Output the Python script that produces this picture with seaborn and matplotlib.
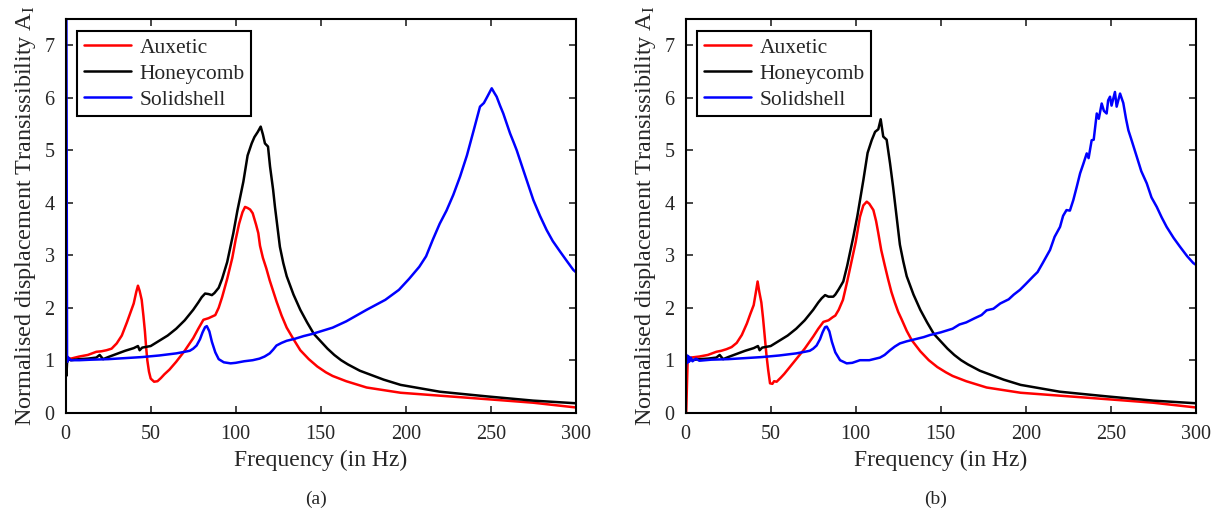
import matplotlib
matplotlib.use("Agg")
import matplotlib.pyplot as plt
import seaborn as sns
import pandas as pd

# ---------------- data ----------------
# Panel (a)
a_aux_f = [0, 0.3, 0.6, 1, 3, 8, 13, 18, 21, 24, 27, 30, 33, 36, 38, 40, 41.5, 42.5, 43.5, 44.7,
           45.7, 46.6, 47.3, 48, 49, 50, 52, 54, 56, 58, 61, 65, 70, 75, 78, 81, 84, 86, 88, 90,
           92, 95, 98, 100, 102, 104, 105.5, 107, 108.5, 110, 112, 113.3, 114.3, 116, 118, 120,
           122, 124, 127, 130, 134, 138, 143, 148, 153, 157, 165, 177, 197, 226, 255, 275, 300]
a_aux_v = [1.0, 2.1, 1.1, 1.05, 1.03, 1.07, 1.1, 1.16, 1.17, 1.19, 1.22, 1.32, 1.47, 1.72, 1.9, 2.08,
           2.3, 2.42, 2.32, 2.15, 1.85, 1.55, 1.25, 1.0, 0.78, 0.65, 0.59, 0.6, 0.66, 0.73, 0.82,
           0.97, 1.18, 1.42, 1.6, 1.77, 1.8, 1.83, 1.86, 2.0, 2.2, 2.55, 2.95, 3.3, 3.6, 3.82,
           3.92, 3.9, 3.87, 3.8, 3.58, 3.42, 3.18, 2.95, 2.75, 2.52, 2.32, 2.12, 1.85, 1.62, 1.4,
           1.19, 1.02, 0.88, 0.77, 0.7, 0.6, 0.48, 0.38, 0.31, 0.24, 0.19, 0.1]

a_hon_f = [0, 0.4, 0.8, 1.5, 3, 8, 13, 18, 20, 22, 25, 30, 35, 40, 42.5, 43.5, 45, 50, 55, 60, 65,
           70, 75, 78, 80, 82, 84, 86, 87.5, 90, 92, 95, 98.6, 101, 104.5, 107, 109.4, 111, 113,
           114.7, 116, 117.2, 119, 120.2, 122, 123.1, 126, 128, 130, 134, 138, 142, 146, 150, 154,
           158, 162, 166, 173, 187, 197, 220, 248, 275, 300]
a_hon_v = [1.0, 0.7, 0.95, 1.02, 1.0, 1.02, 1.03, 1.05, 1.1, 1.02, 1.06, 1.12, 1.18, 1.23, 1.27,
           1.19, 1.24, 1.27, 1.37, 1.47, 1.6, 1.76, 1.96, 2.1, 2.2, 2.27, 2.26, 2.24, 2.28, 2.38,
           2.55, 2.87, 3.42, 3.85, 4.4, 4.9, 5.13, 5.25, 5.35, 5.45, 5.3, 5.13, 5.07, 4.69, 4.25,
           3.92, 3.16, 2.85, 2.6, 2.25, 1.96, 1.72, 1.5, 1.36, 1.22, 1.1, 1.0, 0.92, 0.8, 0.63,
           0.53, 0.4, 0.31, 0.23, 0.18]

a_sol_f = [0, 0.4, 0.8, 1, 1.5, 3, 8, 15, 25, 35, 45, 55, 65, 70, 73, 75, 77, 79, 80.5, 82, 83,
           84.5, 86, 88, 90, 93, 97, 100, 105, 110, 114, 117, 120, 122, 124, 127, 130, 135, 140,
           145, 150, 157, 165, 177, 188, 196, 202, 208, 212, 216, 220, 224, 228, 232, 236, 240,
           243.7, 246, 248, 250.6, 252, 253.5, 255.5, 257.4, 259.5, 261.4, 263.5, 265.3, 269.2,
           275.1, 279, 282.9, 286.5, 290.8, 295, 298.6, 300]
a_sol_v = [7.6, 7.6, 1.05, 0.97, 1.05, 1.0, 1.0, 1.01, 1.02, 1.04, 1.06, 1.09, 1.13, 1.16, 1.18,
           1.22, 1.28, 1.4, 1.53, 1.63, 1.65, 1.55, 1.35, 1.15, 1.02, 0.96, 0.94, 0.95, 0.98, 1.0,
           1.03, 1.07, 1.13, 1.2, 1.28, 1.33, 1.37, 1.41, 1.46, 1.5, 1.55, 1.62, 1.74, 1.96, 2.15,
           2.34, 2.55, 2.78, 2.98, 3.3, 3.6, 3.85, 4.15, 4.5, 4.9, 5.38, 5.83, 5.9, 6.02, 6.18,
           6.1, 6.02, 5.85, 5.7, 5.5, 5.32, 5.15, 5.0, 4.62, 4.05, 3.75, 3.48, 3.27, 3.07, 2.88,
           2.72, 2.68]

# Panel (b)
b_aux_f = [0, 0.3, 0.8, 1.2, 3, 8, 13, 18, 21, 24, 27, 30, 33, 36, 38, 40, 41.3, 42.3, 43.3, 44.5,
           45.5, 46.5, 47.5, 48.5, 49.6, 51, 52, 53.5, 56, 58, 61, 65, 70, 75, 78, 81, 84, 86.5,
           88, 90, 92.5, 95, 98, 100, 102.5, 104.5, 106.5, 108, 110.4, 112, 113.3, 115, 117, 119,
           121, 123, 125, 127, 130, 133, 138, 143, 148, 153, 157, 165, 177, 197, 226, 255, 275,
           300]
b_aux_v = [0.0, 0.0, 0.6, 1.05, 1.05, 1.07, 1.1, 1.16, 1.18, 1.21, 1.25, 1.33, 1.48, 1.7, 1.88,
           2.05, 2.3, 2.5, 2.3, 2.1, 1.8, 1.45, 1.1, 0.82, 0.56, 0.55, 0.6, 0.59, 0.67, 0.74, 0.86,
           1.02, 1.22, 1.45, 1.6, 1.73, 1.76, 1.82, 1.85, 1.96, 2.15, 2.5, 2.95, 3.25, 3.73, 3.95,
           4.02, 3.98, 3.86, 3.65, 3.42, 3.1, 2.82, 2.55, 2.3, 2.1, 1.92, 1.78, 1.56, 1.38, 1.17,
           1.0, 0.87, 0.77, 0.7, 0.6, 0.48, 0.38, 0.31, 0.24, 0.19, 0.1]

b_hon_f = [0.8, 1.5, 3, 8, 13, 18, 20, 22, 25, 30, 35, 40, 42.5, 43.5, 45, 50, 55, 60, 65, 70, 75,
           78, 80, 82, 84, 86.8, 88, 90, 92.7, 95, 98.6, 101, 104.5, 107, 109.4, 111.4, 113.3,
           114.7, 116.2, 118.2, 120.2, 122, 124, 126, 128, 130, 134, 138, 142, 146, 150, 154, 158,
           162, 166, 173, 187, 197, 220, 248, 275, 300]
b_hon_v = [1.0, 1.02, 1.0, 1.02, 1.03, 1.05, 1.1, 1.02, 1.06, 1.12, 1.18, 1.23, 1.27, 1.19, 1.24,
           1.27, 1.37, 1.47, 1.6, 1.76, 1.96, 2.1, 2.18, 2.24, 2.21, 2.21, 2.25, 2.35, 2.5, 2.8,
           3.35, 3.75, 4.43, 4.95, 5.19, 5.35, 5.4, 5.59, 5.26, 5.2, 4.75, 4.3, 3.75, 3.2, 2.88,
           2.6, 2.25, 1.96, 1.72, 1.5, 1.36, 1.22, 1.1, 1.0, 0.92, 0.8, 0.63, 0.53, 0.4, 0.31,
           0.23, 0.18]

b_sol_f = [0, 0.5, 1, 1.5, 2, 3, 4, 6, 8, 15, 25, 35, 45, 55, 65, 70, 73, 75, 77, 79, 80.5, 82,
           83, 84.5, 86, 88, 90.8, 94.7, 98, 102.5, 108, 114.3, 117, 120.2, 123, 126, 130, 135,
           140, 143.7, 150, 157, 161, 165, 170, 174, 177, 181, 185, 190, 193, 196.6, 200, 204.5,
           207, 210, 214.3, 217, 220.2, 222, 224, 226, 228, 230, 232, 234, 235.9, 237, 238.8, 240,
           241.8, 243, 244.7, 246, 247.6, 248.5, 249.6, 250.5, 252.5, 253.5, 255.5, 257.4, 259,
           260.4, 262, 265.3, 268, 271.2, 274, 277.1, 280, 282.9, 287, 290.8, 295, 298.6, 300]
b_sol_v = [0.8, 1.1, 0.95, 1.08, 0.97, 1.05, 0.98, 1.03, 0.99, 1.01, 1.02, 1.04, 1.06, 1.09, 1.13,
           1.16, 1.18, 1.22, 1.28, 1.4, 1.53, 1.63, 1.64, 1.55, 1.35, 1.15, 1.0, 0.94, 0.95, 1.0,
           1.0, 1.05, 1.1, 1.19, 1.26, 1.32, 1.36, 1.4, 1.44, 1.48, 1.53, 1.6, 1.68, 1.72, 1.8,
           1.86, 1.95, 1.98, 2.08, 2.16, 2.25, 2.34, 2.45, 2.6, 2.68, 2.85, 3.1, 3.35, 3.54, 3.75,
           3.86, 3.85, 4.05, 4.3, 4.56, 4.75, 4.94, 4.85, 5.19, 5.2, 5.7, 5.6, 5.89, 5.75, 5.7,
           5.95, 6.02, 5.85, 6.11, 5.83, 6.08, 5.9, 5.6, 5.38, 5.22, 4.88, 4.6, 4.37, 4.1, 3.92,
           3.72, 3.54, 3.33, 3.16, 2.98, 2.85, 2.82]

series_names = ["Auxetic", "Honeycomb", "Solidshell"]
series_colors = ["#ff0000", "#000000", "#0000ff"]
x_ticks = [0, 50, 100, 150, 200, 250, 300]
y_ticks = [0, 1, 2, 3, 4, 5, 6, 7]
x_label = "Frequency (in Hz)"
y_label = r"Normalised displacement Transissibility A$_\mathrm{I}$"
captions = ["(a)", "(b)"]

panels = [
    [(a_aux_f, a_aux_v), (a_hon_f, a_hon_v), (a_sol_f, a_sol_v)],
    [(b_aux_f, b_aux_v), (b_hon_f, b_hon_v), (b_sol_f, b_sol_v)],
]

# ---------------- style ----------------
sns.set_style("ticks")
plt.rcParams["font.family"] = ["Liberation Serif", "DejaVu Serif"]
plt.rcParams["mathtext.fontset"] = "custom"
plt.rcParams["mathtext.rm"] = "Liberation Serif"
plt.rcParams["mathtext.it"] = "Liberation Serif:italic"

fig = plt.figure(figsize=(12.23, 5.14), dpi=100)
W, H = 1223, 514
ax_px = [(65.7, 575.7), (685.7, 1195.7)]
top_px, bot_px = 19, 412.7
cap_x = [315.7, 935.7]

for i, panel in enumerate(panels):
    l, r = ax_px[i]
    ax = fig.add_axes([l / W, (H - bot_px) / H, (r - l) / W, (bot_px - top_px) / H])
    for (f, v), name, col in zip(panel, series_names, series_colors):
        df = pd.DataFrame({"f": f, "v": v})
        sns.lineplot(data=df, x="f", y="v", ax=ax, color=col, linewidth=1.8,
                     label=name, sort=False, estimator=None)
    ax.set_xlim(0, 300)
    ax.set_ylim(0, 7.5)
    ax.set_xticks(x_ticks)
    ax.set_yticks(y_ticks)
    ax.tick_params(direction="in", length=5, width=1.2, top=True, right=True,
                   labelsize=14.5)
    ax.tick_params(axis="x", pad=9)
    ax.tick_params(axis="y", pad=8)
    for s in ax.spines.values():
        s.set_visible(True)
        s.set_linewidth(1.5)
        s.set_color("black")
    ax.set_xlabel(x_label, fontsize=17, labelpad=4)
    ax.set_ylabel(y_label, fontsize=17.4, labelpad=5)
    leg = ax.legend(loc="upper left", bbox_to_anchor=(0.0227, 0.9695), borderaxespad=0,
                    fontsize=15.5, frameon=True, fancybox=False, framealpha=1,
                    edgecolor="black", handlelength=2.2, handletextpad=0.4,
                    labelspacing=0.28, borderpad=0.3)
    leg.get_frame().set_linewidth(1.5)
    fig.text(cap_x[i] / W, (H - 499) / H, captions[i], ha="center", va="center", fontsize=14)

fig.savefig("out.png", dpi=100)
